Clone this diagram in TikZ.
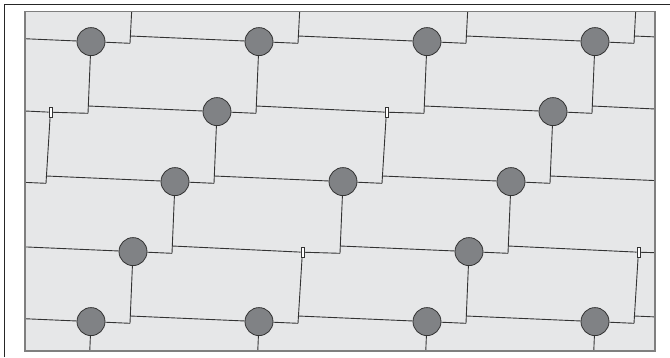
\documentclass[tikz,border=0pt]{standalone}
\usetikzlibrary{positioning}

\definecolor{slabgray}{HTML}{E6E7E8}
\definecolor{stonegray}{HTML}{808285}
\definecolor{seamgray}{HTML}{333333}
\definecolor{edgegray}{HTML}{7F7F7F}

% helling van de voegen
\newcommand{\seamslope}{0.0435}

\tikzset{
  stone/.style={circle, draw=seamgray, fill=stonegray, line width=0.8pt,
    minimum size=28pt, inner sep=0pt},
  tab/.style={rectangle, draw=seamgray, fill=white, line width=0.5pt,
    minimum width=3.2pt, minimum height=9.5pt, inner sep=0pt, xshift=1.4pt,
    yshift=-0.6pt},
  seam/.style={draw=seamgray, line width=0.9pt},
}

\begin{document}
\begin{tikzpicture}[x=1pt, y=-1pt]

  \useasboundingbox (0,0) rectangle (670,357);

  % ============================================================
  % Kader en vlak
  % ============================================================

  \draw[line width=1pt, black!85] (4,357) -- (4,4.5) -- (670,4.5);
  \fill[slabgray] (25,11.7) rectangle (655,351);

  \begin{scope}
    \clip (25,11.7) rectangle (655,351);

    % ============================================================
    % Stenen, lipjes en voegpunten per rij
    % ============================================================

    \foreach \r/\xo in {1/-77, 2/-119, 3/-161, 4/-203, 5/-245} {
      \pgfmathsetmacro\y{41.6+70*(\r-1)}
      \foreach \k in {0,...,6} {
        \pgfmathsetmacro\cx{\xo+168*\k}
        \pgfmathtruncatemacro\istab{and(or(\r==2,\r==4),mod(\k,2)==1)}
        \ifnum\istab=1
          \node[tab] (c\r-\k) at (\cx,\y) {};
        \else
          \node[stone] (c\r-\k) at (\cx,\y) {};
        \fi
        \coordinate (b\r-\k) at (\cx+39,\y+39*\seamslope);
        \coordinate (t\r-\k) at (\cx+39,\y-129*\seamslope);
      }
    }

    % vrije einden boven en onder
    \foreach \k in {0,...,6} {
      \coordinate (top-\k) at (-77+168*\k+42,-14.4);
      \coordinate (bot-\k) at (-245+168*\k-3,393.3);
    }

    % ============================================================
    % Voegen
    % ============================================================

    % schuine voegen
    \foreach \r in {1,...,5} {
      \draw[seam] (c\r-0) -- (b\r-0);
      \foreach \k [evaluate=\k as \km using int(\k-1)] in {1,...,6}
        \draw[seam] (t\r-\km) -- (c\r-\k) -- (b\r-\k);
    }

    % staande voegen
    \foreach \k in {0,...,6} {
      \draw[seam] (top-\k) -- (b1-\k);
      \draw[seam] (c5-\k) -- (bot-\k);
    }
    \foreach \r [evaluate=\r as \rm using int(\r-1)] in {2,...,5}
      \foreach \k in {0,...,6}
        \draw[seam] (c\rm-\k) -- (b\r-\k);

  \end{scope}

  \draw[edgegray, line width=1.1pt] (25,11.7) rectangle (655,351);

\end{tikzpicture}
\end{document}
